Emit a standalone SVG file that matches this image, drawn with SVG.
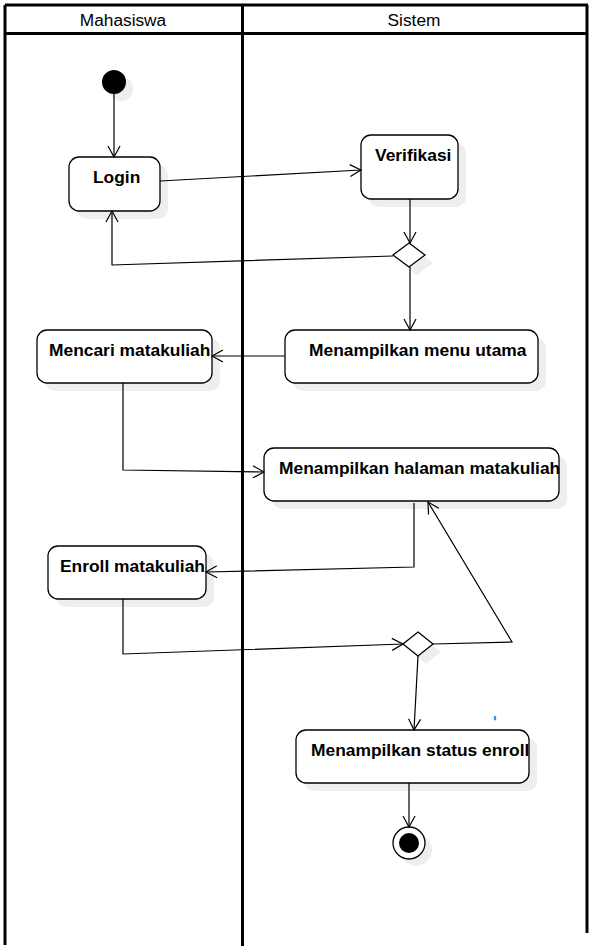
<svg xmlns="http://www.w3.org/2000/svg" width="606" height="949" viewBox="0 0 606 949">
<defs>
<style>
.lane{stroke:#000;stroke-width:3;fill:none}
.hdr{font-family:"Liberation Sans",Arial,sans-serif;font-size:17.3px;fill:#000;text-anchor:middle}
.box{fill:#fff;stroke:#000;stroke-width:1.3}
.shadow{fill:#eeeeee}
.lbl{font-family:"Liberation Sans",Arial,sans-serif;font-size:17.4px;font-weight:bold;fill:#000}
.edge{fill:none;stroke:#000;stroke-width:1.2}
</style>
<marker id="arr" markerWidth="14" markerHeight="14" refX="12" refY="7" orient="auto" markerUnits="userSpaceOnUse">
<path d="M1,1 L12,7 L1,13" fill="none" stroke="#000" stroke-width="1.2"/>
</marker>
</defs>
<rect width="606" height="949" fill="#fff"/>
<g id="lanes">
<line class="lane" x1="5" y1="5" x2="588" y2="5"/>
<line class="lane" x1="5" y1="33.5" x2="588" y2="33.5"/>
<line class="lane" x1="5" y1="5" x2="5" y2="945"/>
<line class="lane" x1="242.5" y1="5" x2="242.5" y2="946"/>
<line class="lane" x1="587" y1="5" x2="587" y2="933"/>
<text class="hdr" x="123" y="26">Mahasiswa</text>
<text class="hdr" x="414" y="26">Sistem</text>
</g>
<g id="start">
<circle class="shadow" cx="121" cy="89" r="12"/>
<circle cx="114" cy="82" r="12" fill="#000"/>
</g>
<g id="login">
<rect class="shadow" x="77" y="165" width="91" height="54" rx="10"/>
<rect class="box" x="69" y="157" width="91" height="54" rx="10"/>
<text class="lbl" x="93" y="183">Login</text>
</g>
<g id="verifikasi">
<rect class="shadow" x="369" y="143" width="97" height="64" rx="10"/>
<rect class="box" x="361" y="135" width="97" height="64" rx="10"/>
<text class="lbl" x="375" y="161">Verifikasi</text>
</g>
<g id="decision1">
<polygon class="shadow" points="417,251 433,263 417,275 401,263"/>
<polygon class="box" points="409,243 425,255 409,267 393,255"/>
</g>
<g id="mencari">
<rect class="shadow" x="45" y="338" width="175" height="53" rx="10"/>
<rect class="box" x="37" y="330" width="175" height="53" rx="10"/>
<text class="lbl" x="49" y="356">Mencari matakuliah</text>
</g>
<g id="menu">
<rect class="shadow" x="293" y="338" width="253" height="53" rx="10"/>
<rect class="box" x="285" y="330" width="253" height="53" rx="10"/>
<text class="lbl" x="309" y="356">Menampilkan menu utama</text>
</g>
<g id="halaman">
<rect class="shadow" x="272" y="456" width="295" height="53" rx="10"/>
<rect class="box" x="264" y="448" width="295" height="53" rx="10"/>
<text class="lbl" x="279" y="474">Menampilkan halaman matakuliah</text>
</g>
<g id="enroll">
<rect class="shadow" x="56" y="554" width="158" height="53" rx="10"/>
<rect class="box" x="48" y="546" width="158" height="53" rx="10"/>
<text class="lbl" x="60" y="572">Enroll matakuliah</text>
</g>
<g id="decision2">
<polygon class="shadow" points="426,640 441,652 426,664 411,652"/>
<polygon class="box" points="418,632 433,644 418,656 403,644"/>
</g>
<g id="status">
<rect class="shadow" x="304" y="738" width="233" height="53" rx="10"/>
<rect class="box" x="296" y="730" width="233" height="53" rx="10"/>
<text class="lbl" x="311" y="756">Menampilkan status enroll</text>
</g>
<g id="end">
<circle class="shadow" cx="416" cy="850" r="16"/>
<circle class="box" cx="409" cy="843" r="16"/>
<circle cx="409" cy="843" r="10" fill="#000"/>
</g>
<g id="connectors">
<line class="edge" x1="114" y1="94" x2="114" y2="157" marker-end="url(#arr)"/>
<line class="edge" x1="160" y1="181" x2="361" y2="170" marker-end="url(#arr)"/>
<line class="edge" x1="410" y1="199" x2="410" y2="243" marker-end="url(#arr)"/>
<polyline class="edge" points="393,256 112,265 112,211" marker-end="url(#arr)"/>
<line class="edge" x1="410" y1="267" x2="410" y2="330" marker-end="url(#arr)"/>
<line class="edge" x1="285" y1="356" x2="212" y2="356" marker-end="url(#arr)"/>
<polyline class="edge" points="123,383 123,470 264,472" marker-end="url(#arr)"/>
<polyline class="edge" points="414,503 414,567 206,572" marker-end="url(#arr)"/>
<polyline class="edge" points="123,599 123,654 403,644" marker-end="url(#arr)"/>
<polyline class="edge" points="433,644 512,642 428,502" marker-end="url(#arr)"/>
<line class="edge" x1="418" y1="656" x2="414" y2="730" marker-end="url(#arr)"/>
<line class="edge" x1="409" y1="783" x2="409" y2="827" marker-end="url(#arr)"/>
</g>
<ellipse cx="495" cy="718" rx="1.3" ry="2.5" fill="#3d8cff"/>
</svg>
